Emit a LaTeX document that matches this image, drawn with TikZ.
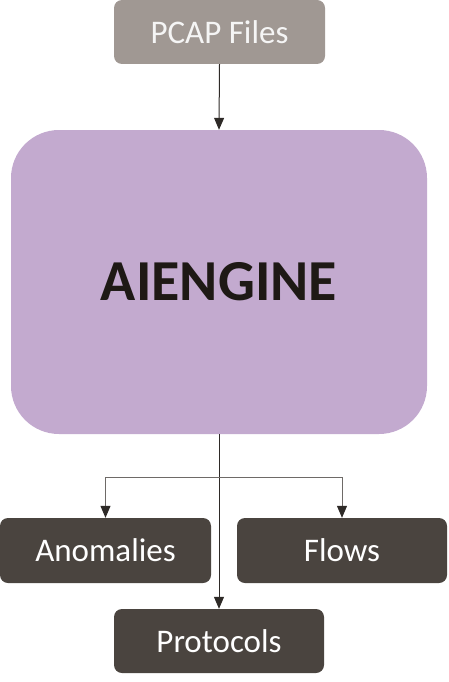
\documentclass[tikz,border=0pt]{standalone}
\usepackage{fontspec}
\setmainfont{Carlito}
\usetikzlibrary{arrows.meta}
\definecolor{pcapgray}{HTML}{A09893}
\definecolor{engpurple}{HTML}{C3AACF}
\definecolor{outbox}{HTML}{4A443F}
\definecolor{linecol}{HTML}{2E2A27}
\definecolor{branchcol}{HTML}{6E6A67}
\definecolor{engtext}{HTML}{1E1915}
\begin{document}
\begin{tikzpicture}[x=1pt,y=-1pt,
  box/.style={rectangle,rounded corners=8pt,inner sep=0pt,text=white,
    font=\fontsize{33}{39}\selectfont},
  arr/.style={-{Triangle[width=10pt,length=12pt,color=linecol]},line width=1pt,draw=linecol}]
\useasboundingbox (0,0) rectangle (448,682);
\node[box,fill=pcapgray,minimum width=211pt,minimum height=64pt,text=white!96!black] (pcap) at (219.5,32) {PCAP Files};
\node[rectangle,rounded corners=48pt,fill=engpurple,minimum width=416pt,minimum height=304pt,
  text=engtext,font=\fontsize{58}{68}\selectfont\bfseries] (eng) at (219,282) {AIENGINE};
\node[box,fill=outbox,minimum width=211pt,minimum height=65pt] (anom) at (105.5,550.5) {Anomalies};
\node[box,fill=outbox,minimum width=210pt,minimum height=65pt] (flows) at (342,550.5) {Flows};
\node[box,fill=outbox,minimum width=210pt,minimum height=64pt] (prot) at (219,641) {Protocols};
\coordinate (split) at (219,477);
\draw[arr] (pcap.south) -- (eng.north);
\draw[arr] (eng.south) -- (prot.north);
\draw[arr,draw=branchcol] (split) -| (anom.north);
\draw[arr,draw=branchcol] (split) -| (flows.north);
\end{tikzpicture}
\end{document}
